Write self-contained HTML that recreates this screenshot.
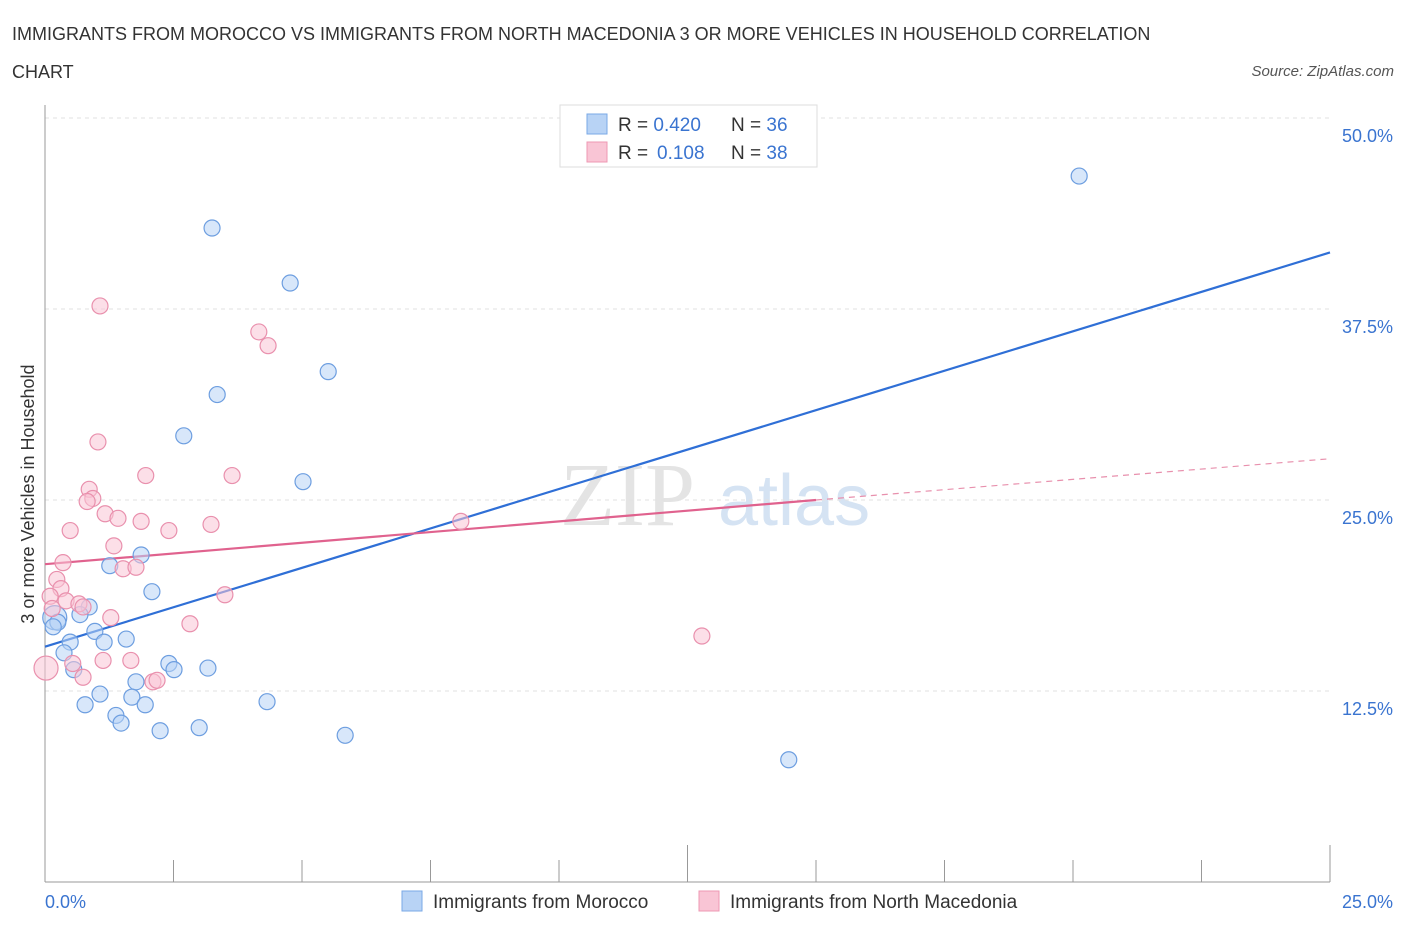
<!DOCTYPE html>
<html><head><meta charset="utf-8"><style>
body{margin:0;background:#fff;font-family:"Liberation Sans",sans-serif;}
svg{display:block}
</style></head><body>
<svg id="c" width="1406" height="930" xmlns="http://www.w3.org/2000/svg">
<text x="12" y="40" font-size="18" fill="#333">IMMIGRANTS FROM MOROCCO VS IMMIGRANTS FROM NORTH MACEDONIA 3 OR MORE VEHICLES IN HOUSEHOLD CORRELATION</text>
<text x="12" y="78" font-size="18" fill="#333">CHART</text>
<text x="1394" y="76" font-size="15" fill="#555" font-style="italic" text-anchor="end">Source: ZipAtlas.com</text>
<text x="560" y="525" font-size="90" fill="#e4e4e4" font-family="Liberation Serif">ZIP</text>
<text x="718" y="525" font-size="72" fill="#d5e3f3">atlas</text>
<g id="grid"></g>
<g id="axes"></g>
<g id="lines"></g>
<g id="pts"></g>
<text transform="translate(34,494) rotate(-90)" font-size="18" fill="#333" text-anchor="middle">3 or more Vehicles in Household</text>
<text x="45" y="908" font-size="18" fill="#3a74d0">0.0%</text>
<text x="1393" y="908" font-size="18" fill="#3a74d0" text-anchor="end">25.0%</text>
<g>
<rect x="560" y="105" width="257" height="62" fill="#fff" stroke="#ddd"/>
<rect x="587" y="114" width="20" height="20" fill="#b8d3f5" stroke="#7aa8e6"/>
<rect x="587" y="142" width="20" height="20" fill="#f9c5d5" stroke="#ee98b3"/>
<text x="618" y="131" font-size="19" fill="#333">R = <tspan fill="#3a74d0">0.420</tspan><tspan x="731">N = </tspan><tspan fill="#3a74d0">36</tspan></text>
<text x="618" y="159" font-size="19" fill="#333">R = <tspan fill="#3a74d0" x="657">0.108</tspan><tspan x="731">N = </tspan><tspan fill="#3a74d0">38</tspan></text>
</g>
<g>
<rect x="402" y="891" width="20" height="20" fill="#b8d3f5" stroke="#7aa8e6"/>
<text x="433" y="908" font-size="19" fill="#333">Immigrants from Morocco</text>
<rect x="699" y="891" width="20" height="20" fill="#f9c5d5" stroke="#ee98b3"/>
<text x="730" y="908" font-size="19" fill="#333">Immigrants from North Macedonia</text>
</g>
</svg>
<script>
const yTicks=[12.5,25,37.5,50];
const yTickLabels=["12.5%","25.0%","37.5%","50.0%"];
const moroccoX=[20.12,3.25,4.77,5.51,3.35,2.70,5.02,1.87,1.26,2.08,0.86,0.68,0.19,0.25,0.16,0.97,1.58,0.49,1.15,0.37,0.56,2.41,2.51,3.17,1.77,1.07,1.69,0.78,1.95,4.32,1.38,1.48,2.24,3.00,5.84,14.47];
const moroccoY=[46.2,42.8,39.2,33.4,31.9,29.2,26.2,21.4,20.7,19.0,18.0,17.5,17.3,17.0,16.7,16.4,15.9,15.7,15.7,15.0,13.9,14.3,13.9,14.0,13.1,12.3,12.1,11.6,11.6,11.8,10.9,10.4,9.9,10.1,9.6,8.0];
const macX=[1.07,4.16,4.34,1.03,1.96,3.64,0.86,0.93,0.82,1.17,1.42,1.87,3.23,2.41,0.49,8.09,1.34,0.35,1.52,1.77,0.23,0.31,0.10,0.41,0.66,0.74,0.14,1.28,2.82,3.50,12.78,1.13,1.67,0.54,0.74,2.10,2.18,0.02];
const macY=[37.7,36.0,35.1,28.8,26.6,26.6,25.7,25.1,24.9,24.1,23.8,23.6,23.4,23.0,23.0,23.6,22.0,20.9,20.5,20.6,19.8,19.2,18.7,18.4,18.2,18.0,17.9,17.3,16.9,18.8,16.1,14.5,14.5,14.3,13.4,13.1,13.2,14.0];
const moroccoTrend=[15.4,41.2];
const macTrend=[20.8,25.0,27.7];
const macTrendSolidEnd=15.0;
const NS="http://www.w3.org/2000/svg";
const X=v=>45+v*51.4, Y=v=>882-v*15.28;
function mk(t,a,p){const e=document.createElementNS(NS,t);for(const k in a)e.setAttribute(k,a[k]);p.appendChild(e);return e;}
const grid=document.getElementById('grid'),axes=document.getElementById('axes'),lines=document.getElementById('lines'),pts=document.getElementById('pts');
yTicks.forEach((t,i)=>{
 const l=mk('line',{x1:45,x2:1330,y1:Y(t),y2:Y(t),stroke:'#e2e2e2','stroke-dasharray':'4,4'},grid);
 
 
 const tx=mk('text',{x:1393,y:Y(t)+24,'font-size':18,fill:'#3a74d0','text-anchor':'end'},grid);
 tx.textContent=yTickLabels[i];
 
 
});
const ax=mk('line',{x1:45,x2:45,y1:105,y2:882,stroke:'#999'},axes);


const bx=mk('line',{x1:45,x2:1330,y1:882,y2:882,stroke:'#999'},axes);


for(let i=0;i<=10;i++){const v=i*2.5;
 const t=mk('line',{x1:X(v),x2:X(v),y1:882,y2:i%5==0?845:860,stroke:'#999'},axes);
 
 }
function dot(x,y,fill,stroke,r,name){const c=mk('circle',{cx:X(x),cy:Y(y),r:r,fill:fill,stroke:stroke,'stroke-width':1.2,'fill-opacity':0.55},pts);
 
 }
moroccoX.forEach((x,i)=>dot(x,moroccoY[i],'#b8d3f5','#6d9ee0',i==12?12:8,'point-morocco'));
macX.forEach((x,i)=>dot(x,macY[i],'#f9c5d5','#e990ad',i==macX.length-1?12:8,'point-macedonia'));
const bl=mk('line',{x1:X(0),y1:Y(moroccoTrend[0]),x2:X(25),y2:Y(moroccoTrend[1]),stroke:'#2f6fd6','stroke-width':2.2},lines);


const pl=mk('line',{x1:X(0),y1:Y(macTrend[0]),x2:X(macTrendSolidEnd),y2:Y(macTrend[1]),stroke:'#e0628e','stroke-width':2.2},lines);


const pd=mk('line',{x1:X(macTrendSolidEnd),y1:Y(macTrend[1]),x2:X(25),y2:Y(macTrend[2]),stroke:'#e890ad','stroke-width':1.2,'stroke-dasharray':'6,5'},lines);


</script>
</body></html>
